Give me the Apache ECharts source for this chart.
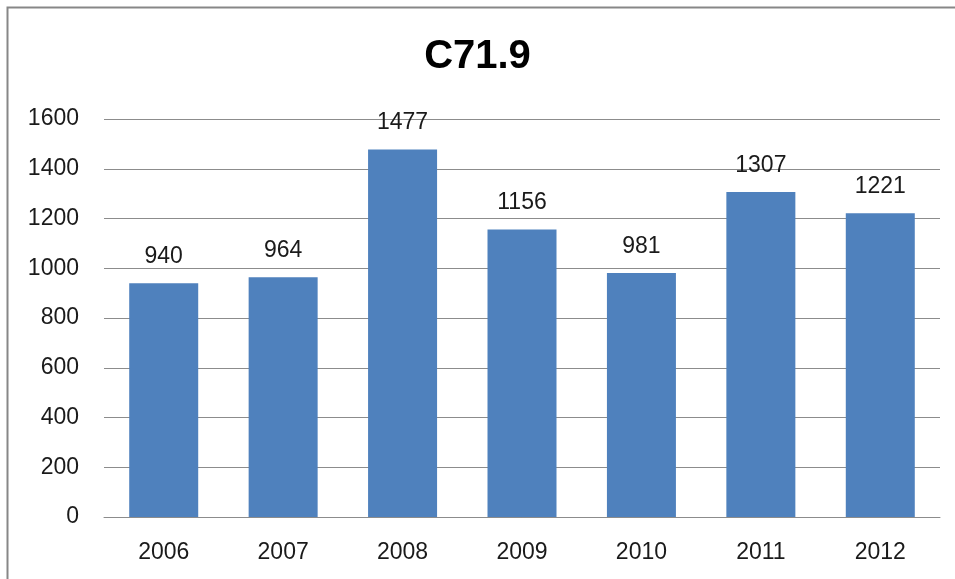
<!DOCTYPE html>
<html>
<head>
<meta charset="utf-8">
<script src="https://cdn.jsdelivr.net/npm/echarts@6/dist/echarts.min.js"></script>
<style>
	html, body { margin: 0; padding: 0; background: #fff; }
	#chart { width: 955px; height: 579px; }
</style>
</head>
<body>
<div id="chart"></div>
<script>
var years = [ '2006', '2007', '2008', '2009', '2010', '2011', '2012' ];
var counts = [ 940, 964, 1477, 1156, 981, 1307, 1221 ];
var yTicks = { min : 0, max : 1600, step : 200 };

function showBarChart() {
	var myChart = echarts.init(document.getElementById('chart'));
	var font = 'Liberation Sans';
	var option = {
		animation : false,
		backgroundColor : '#ffffff',
		title : {
			text : 'C71.9',
			left : 'center',
			top : 32,
			textStyle : {
				fontFamily : font,
				fontSize : 40,
				fontWeight : 'bold',
				color : '#000000'
			}
		},
		// outer frame, only top and left edges are inside the picture
		graphic : [ {
			type : 'rect',
			shape : { x : 7.5, y : 7.5, width : 1000, height : 1000 },
			style : { fill : 'none', stroke : '#878787', lineWidth : 2 },
			silent : true
		} ],
		grid : {
			left : 104,
			right : 15,
			top : 119,
			bottom : 62
		},
		xAxis : {
			type : 'category',
			data : years,
			axisLine : { lineStyle : { color : '#8c8c8c', width : 1 } },
			axisTick : { show : false },
			axisLabel : {
				margin : 24,
				fontFamily : font,
				fontSize : 23,
				color : '#1a1a1a'
			}
		},
		yAxis : {
			type : 'value',
			min : yTicks.min,
			max : yTicks.max,
			interval : yTicks.step,
			axisLine : { show : false },
			axisTick : { show : false },
			splitLine : { lineStyle : { color : '#8c8c8c', width : 1 } },
			axisLabel : {
				margin : 25,
				fontFamily : font,
				fontSize : 23,
				color : '#1a1a1a',
				formatter : function (v) { return String(v); }
			}
		},
		series : [ {
			name : 'C71.9',
			type : 'bar',
			data : counts,
			barWidth : 69,
			itemStyle : { color : '#4f81bd' },
			label : {
				show : true,
				position : 'top',
				distance : 15,
				fontFamily : font,
				fontSize : 23,
				color : '#1a1a1a'
			}
		} ]
	};
	myChart.setOption(option);
}
showBarChart();
</script>
</body>
</html>
